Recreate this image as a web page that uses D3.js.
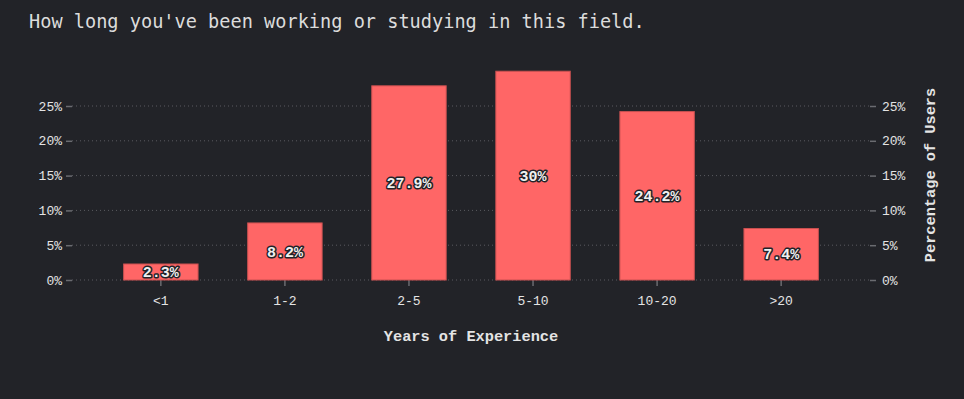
<!DOCTYPE html>
<html>
<head>
<meta charset="utf-8">
<script src="https://cdn.jsdelivr.net/npm/d3@7"></script>
<style>
  html, body { margin: 0; padding: 0; background: #222328; }
  svg { display: block; }
  .tick text { font-family: "Liberation Mono", monospace; font-size: 13px; fill: #e4e4e4; }
  .domain { display: none; }
</style>
</head>
<body>
<div id="chart"></div>
<script>
// chart data
var categories = ["<1", "1-2", "2-5", "5-10", "10-20", ">20"];
var percentages = [2.3, 8.2, 27.9, 30, 24.2, 7.4];
var yTicks = [0, 5, 10, 15, 20, 25];

var width = 964,
    height = 399,
    left = 72,
    right = 870,
    top = 40,
    bottom = 280;

var svg = d3.select("#chart").append("svg")
    .attr("width", width)
    .attr("height", height);

svg.append("rect")
    .attr("width", width)
    .attr("height", height)
    .attr("fill", "#222328");

// title
svg.append("text")
    .attr("x", 29)
    .attr("y", 28)
    .style("font-family", "'DejaVu Sans Mono', monospace")
    .style("font-size", "18.6px")
    .style("fill", "#dcdcdc")
    .text("How long you've been working or studying in this field.");

var x = d3.scaleBand()
    .domain(categories)
    .range([left + 2, right - 2])
    .paddingInner(0.4)
    .paddingOuter(0.4);

var y = d3.scaleLinear()
    .domain([0, 30])
    .range([bottom, bottom - 30 * 6.96]);

// grid lines
svg.append("g")
  .selectAll("line")
    .data(yTicks)
  .enter().append("line")
    .attr("x1", left)
    .attr("x2", right)
    .attr("y1", function(d) { return y(d); })
    .attr("y2", function(d) { return y(d); })
    .style("stroke", "#5a5b60")
    .style("stroke-width", "1px")
    .style("stroke-dasharray", "1,3");

// axes
var yLeft = d3.axisLeft(y).tickValues(yTicks).tickSize(6).tickPadding(4)
    .tickFormat(function(d) { return d + "%"; });
var yRight = d3.axisRight(y).tickValues(yTicks).tickSize(6).tickPadding(6)
    .tickFormat(function(d) { return d + "%"; });
var xAxis = d3.axisBottom(x).tickSize(6).tickPadding(10);

svg.append("g")
    .attr("transform", "translate(" + left + ",0)")
    .call(yLeft);
svg.append("g")
    .attr("transform", "translate(" + right + ",0)")
    .call(yRight);
svg.append("g")
    .attr("transform", "translate(0," + bottom + ")")
    .call(xAxis);

svg.selectAll(".tick line")
    .style("stroke", "#6a6b70")
    .style("stroke-width", "1.5px");

// bars
svg.append("g")
  .selectAll("rect")
    .data(percentages)
  .enter().append("rect")
    .attr("x", function(d, i) { return x(categories[i]); })
    .attr("y", function(d) { return y(d); })
    .attr("width", x.bandwidth())
    .attr("height", function(d) { return y(0) - y(d); })
    .style("fill", "#ff6666")
    .style("stroke", "#c85050")
    .style("stroke-width", "1px");

// value labels
svg.append("g")
  .selectAll("text")
    .data(percentages)
  .enter().append("text")
    .attr("x", function(d, i) { return x(categories[i]) + x.bandwidth() / 2; })
    .attr("y", function(d) { return y(d / 2); })
    .attr("dy", "0.35em")
    .attr("text-anchor", "middle")
    .style("font-family", "'Liberation Mono', monospace")
    .style("font-size", "15px")
    .style("font-weight", "bold")
    .style("fill", "#f0f0f0")
    .style("stroke", "#222328")
    .style("stroke-width", "3px")
    .style("paint-order", "stroke")
    .style("stroke-linejoin", "round")
    .text(function(d) { return d + "%"; });

// axis titles
svg.append("text")
    .attr("x", (left + right) / 2)
    .attr("y", 341)
    .attr("text-anchor", "middle")
    .style("font-family", "'Liberation Mono', monospace")
    .style("font-size", "15.3px")
    .style("font-weight", "bold")
    .style("fill", "#e4e4e4")
    .text("Years of Experience");

svg.append("text")
    .attr("transform", "translate(935," + 175 + ") rotate(-90)")
    .attr("text-anchor", "middle")
    .style("font-family", "'Liberation Mono', monospace")
    .style("font-size", "15.3px")
    .style("font-weight", "bold")
    .style("fill", "#e4e4e4")
    .text("Percentage of Users");
</script>
</body>
</html>
